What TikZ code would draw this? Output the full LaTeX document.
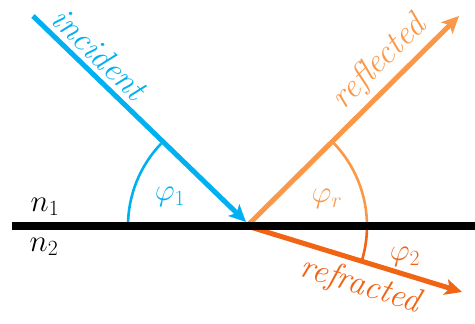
\RequirePackage{fix-cm}
\documentclass[tikz,border=0pt]{standalone}
\usetikzlibrary{arrows.meta}
\definecolor{incC}{RGB}{0,176,240}
\definecolor{reflC}{RGB}{250,152,72}
\definecolor{refrC}{RGB}{240,100,20}
\tikzset{
  ray/.style={line width=5pt, -{Stealth[length=17pt,width=16pt,inset=4pt]}},
  anglearc/.style={line width=2.6pt},
  raytext/.style={font=\fontsize{34}{38}\selectfont\itshape, inner sep=5pt},
  lab/.style={font=\fontsize{31}{35}\selectfont, inner sep=0pt},
}
\begin{document}
\begin{tikzpicture}[x=1pt,y=-1pt]
\useasboundingbox (0,0) rectangle (475,324);
\coordinate (O) at (247,226);
\coordinate (A) at (33,16);
\coordinate (Oi) at (246,222);
\coordinate (R) at (459,16);
\coordinate (T) at (462,292);
\coordinate (L) at (12,226);
\coordinate (E) at (475,226);
% rays
\draw[ray, incC] (A) -- node[raytext, pos=0.25, sloped, above] {incident} (Oi);
\draw[ray, reflC] (O) -- node[raytext, pos=0.70, sloped, above] {reflected} (R);
\draw[ray, refrC] (O) -- node[raytext, pos=0.56, sloped, below, inner sep=6pt] {refracted} (T);
% angle arcs
\draw[anglearc, incC] ([xshift=-119pt]O) arc[start angle=180, end angle=136.2, radius=119pt];
\draw[anglearc, reflC] ([xshift=120pt]O) arc[start angle=0, end angle=44.2, radius=120pt];
\draw[anglearc, refrC] ([xshift=120pt]O) arc[start angle=0, end angle=-16.2, radius=120pt];
% interface
\draw[line width=8pt] (L) -- (E);
% labels
\node[lab, incC] (p1) at (170,197) {$\varphi_1$};
\node[lab, reflC] (pr) at (327,199) {$\varphi_r$};
\node[lab, refrC] (p2) at (405,257) {$\varphi_2$};
\node[lab] (n1) at (45,207) {$n_1$};
\node[lab] (n2) at (44,247) {$n_2$};
\end{tikzpicture}
\end{document}
